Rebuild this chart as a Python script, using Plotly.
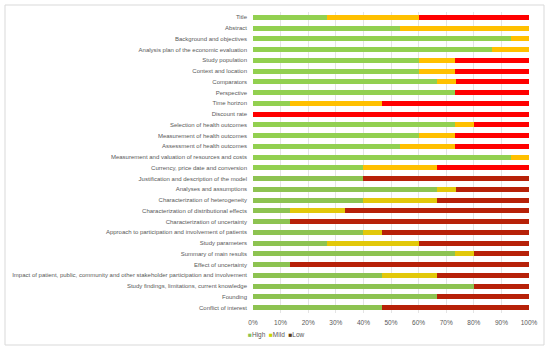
import plotly.graph_objects as go

categories = [
    "Title", "Abstract", "Background and objectives",
    "Analysis plan of the economic evaluation", "Study population",
    "Context and location", "Comparators", "Perspective", "Time horizon",
    "Discount rate", "Selection of health outcomes",
    "Measurement of health outcomes", "Assessment of health outcomes",
    "Measurement and valuation of resources and costs",
    "Currency, price date and conversion",
    "Justification and description of the model", "Analyses and assumptions",
    "Characterization of heterogeneity",
    "Characterization of distributional effects",
    "Characterization of uncertainty",
    "Approach to participation and involvement of patients",
    "Study parameters", "Summary of main results", "Effect of uncertainty",
    "Impact of patient, public, community and other stakeholder participation and involvement",
    "Study findings, limitations, current knowledge", "Founding",
    "Conflict of interest",
]

high = [26.7, 53.3, 93.3, 86.7, 60.0, 60.0, 66.7, 73.3, 13.3, 0.0,
        73.3, 60.0, 53.3, 93.3, 40.0, 40.0, 66.7, 40.0, 13.3, 13.3,
        40.0, 26.7, 73.3, 13.3, 46.7, 80.0, 66.7, 46.7]
mild = [33.3, 46.7, 6.7, 13.3, 13.3, 13.3, 6.7, 0.0, 33.3, 0.0,
        6.7, 13.3, 20.0, 6.7, 26.7, 0.0, 6.7, 26.7, 20.0, 0.0,
        6.7, 33.3, 6.7, 0.0, 20.0, 0.0, 0.0, 0.0]
low = [40.0, 0.0, 0.0, 0.0, 26.7, 26.7, 26.7, 26.7, 53.3, 100.0,
       20.0, 26.7, 26.7, 0.0, 33.3, 60.0, 26.7, 33.3, 66.7, 86.7,
       53.3, 40.0, 20.0, 86.7, 33.3, 20.0, 33.3, 53.3]

tick_vals = [0, 10, 20, 30, 40, 50, 60, 70, 80, 90, 100]
tick_text = ["0%", "10%", "20%", "30%", "40%", "50%", "60%", "70%", "80%", "90%", "100%"]
series_names = ["High", "Mild", "Low"]

# styles
n_top = 15  # first rows drawn in bright palette, remaining rows in darker palette
green_cols = ["#92D050"] * n_top + ["#8DC351"] * (len(categories) - n_top)
mild_cols = ["#FFC000"] * n_top + ["#E2C80A"] * (len(categories) - n_top)
low_cols = ["#FF0000"] * n_top + ["#B72108"] * (len(categories) - n_top)
legend_cols = ["#8DC351", "#C9D400", "#5A3A12"]

fig = go.Figure()
for vals, cols, name in [(high, green_cols, series_names[0]),
                         (mild, mild_cols, series_names[1]),
                         (low, low_cols, series_names[2])]:
    fig.add_trace(go.Bar(
        y=categories, x=vals, orientation="h", name=name,
        marker=dict(color=cols, line=dict(width=0)),
        showlegend=False, hoverinfo="x+y",
    ))

W, H = 550, 351
L, R, T, B = 253, 21, 12, 38
pw, ph = W - L - R, H - T - B

def px_x(p):
    return (p - L) / pw

def px_y(p):
    return (H - B - p) / ph

legend_text = "  ".join(
    f'<span style="color:{c}">■</span>{n}' for n, c in zip(series_names, legend_cols)
)

fig.update_layout(
    width=W, height=H,
    margin=dict(l=L, r=R, t=T, b=B, pad=0, autoexpand=False),
    barmode="stack", bargap=0.55,
    paper_bgcolor="white", plot_bgcolor="white",
    showlegend=False,
    font=dict(family="Liberation Sans, Arial, sans-serif", size=6, color="#595959"),
    xaxis=dict(range=[0, 100], tickvals=tick_vals, ticktext=tick_text,
               showgrid=True, gridcolor="#E4E4E4", gridwidth=1,
               zeroline=False, showline=False, ticks="", automargin=False,
               ticklabelstandoff=4,
               tickfont=dict(size=6.5, color="#595959"), fixedrange=True),
    yaxis=dict(autorange="reversed", showgrid=False, zeroline=False,
               showline=False, ticks="", ticklabelstandoff=5, automargin=False,
               tickfont=dict(size=6.0, color="#595959"), fixedrange=True),
    annotations=[dict(text=legend_text, xref="paper", yref="paper",
                      x=px_x(276), y=px_y(335), xanchor="center", yanchor="middle",
                      showarrow=False, font=dict(size=6.5, color="#595959"))],
    shapes=[dict(type="rect", xref="paper", yref="paper",
                 x0=px_x(5), x1=px_x(544), y0=px_y(345), y1=px_y(5),
                 line=dict(color="#D9D9D9", width=1), layer="below")],
)

fig.write_html("out.html", config={"displayModeBar": False},
               post_script="document.body.style.margin='0';document.body.style.padding='0';")
